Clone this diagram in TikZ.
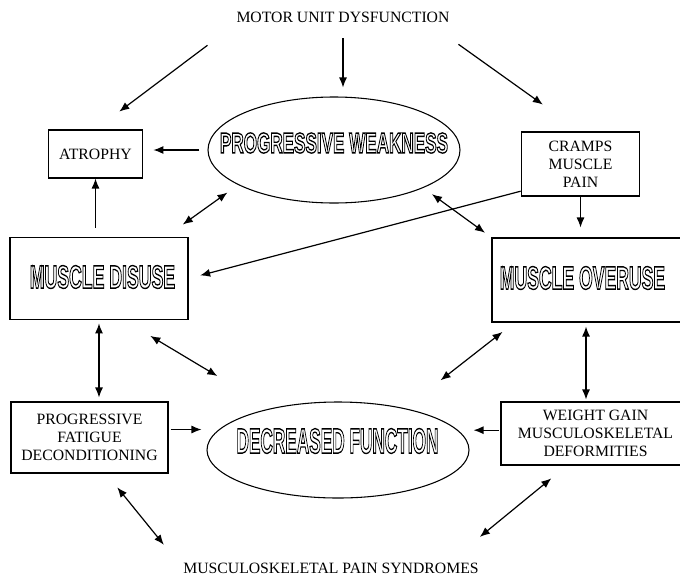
\documentclass[tikz,border=0pt]{standalone}
\usepackage{fontspec}
\setmainfont{Liberation Serif}
\setsansfont{Liberation Sans}
\usetikzlibrary{arrows.meta,shapes.geometric}
\newcommand\hollow[4]{\resizebox{#1}{#2}{\fontsize{#3}{#3}\selectfont\sffamily\bfseries
  \special{pdf:literal direct 1 Tr 1 w}#4\special{pdf:literal direct 0 Tr}}}

\begin{document}
\begin{tikzpicture}[x=0.75pt,y=-0.75pt,
  plain/.style={font=\fontsize{11.8}{13.5}\selectfont,align=center},
  box/.style={draw,line width=0.8pt,plain},
  oval/.style={draw,ellipse,line width=0.8pt},
  arr/.style={line width=0.9pt,-{Latex[length=7.5pt,width=6pt]}},
  dbl/.style={line width=0.9pt,{Latex[length=7.5pt,width=6pt]}-{Latex[length=7.5pt,width=6pt]}}]
\clip (0,0) rectangle (680,575);
\node[plain] (motor) at (343,17) {MOTOR UNIT DYSFUNCTION};
\node[oval,minimum width=189pt,minimum height=79.5pt] (weak) at (334,150) {};
\node (weaktxt) at (334,143) {\hollow{171pt}{15pt}{21pt}{PROGRESSIVE WEAKNESS}};
\node[box,minimum width=71pt,minimum height=36pt] (atrophy) at (95.5,154) {ATROPHY};
\node[box,minimum width=89pt,minimum height=48pt] (cramps) at (580.5,164) {CRAMPS\\MUSCLE\\PAIN};
\node[box,minimum width=133.5pt,minimum height=62pt] (disuse) at (99,278.5) {};
\node (disusetxt) at (102.5,277) {\hollow{109pt}{17pt}{23.5pt}{MUSCLE DISUSE}};
\node[box,minimum width=148.5pt,minimum height=63pt] (overuse) at (591,280) {};
\node (overusetxt) at (582.5,278) {\hollow{124pt}{17pt}{23.5pt}{MUSCLE OVERUSE}};
\node[oval,minimum width=196.5pt,minimum height=72pt] (func) at (338,450) {};
\node (functxt) at (337.5,441) {\hollow{151.5pt}{18.5pt}{25.5pt}{DECREASED FUNCTION}};
\node[box,minimum width=117.75pt,minimum height=53.25pt] (fatigue) at (89.5,437.5) {PROGRESSIVE\\FATIGUE\\DECONDITIONING};
\node[box,minimum width=141.75pt,minimum height=47.25pt] (weight) at (595.5,433.5) {WEIGHT GAIN\\MUSCULOSKELETAL\\DEFORMITIES};
\node[plain] (pain) at (331,568) {MUSCULOSKELETAL PAIN SYNDROMES};

\draw[arr,shorten <=22.8pt,shorten >=22.3pt] (motor.south west) -- (atrophy.north);
\draw[arr,shorten <=8.5pt,shorten >=6.75pt] (motor.south) -- (motor.south |- weak.north);
\draw[arr,shorten <=22.3pt,shorten >=34.7pt] ([xshift=-15pt]motor.south east) -- (cramps.north);
\draw[arr,shorten <=6pt,shorten >=7.5pt] (weak.west) -- (weak.west -| atrophy.east);
\draw[arr,shorten <=6.75pt] (atrophy.south |- disuse.north) -- (atrophy.south);
\draw[dbl,shorten <=15.6pt,shorten >=9.8pt] ([xshift=-17pt]disuse.north east) -- (weak.200);
\draw[arr,shorten >=9pt] ([yshift=4pt]cramps.south west) -- (disuse.east);
\draw[arr,shorten >=7.5pt] (cramps.south) -- (cramps.south |- overuse.north);
\draw[dbl,shorten <=8pt,shorten >=6pt] (weak.-23) -- (overuse.north west);
\draw[dbl,shorten <=2.25pt,shorten >=3pt] (disuse.south) -- (disuse.south |- fatigue.north);
\draw[dbl,shorten <=22.7pt,shorten >=47pt] ([xshift=19pt]disuse.south) -- (func.148);
\draw[dbl,shorten <=34pt,shorten >=11.4pt] (func.32) -- ([xshift=17.25pt]overuse.south west);
\draw[dbl,shorten <=3pt,shorten >=1.5pt] ([xshift=-3.75pt]overuse.south) -- ([xshift=-3.75pt]overuse.south |- weight.north);
\draw[arr,shorten <=1.5pt,shorten >=3.75pt] ([yshift=6pt]fatigue.east) -- ([yshift=6pt]fatigue.east -| func.west);
\draw[arr,shorten <=1pt,shorten >=3pt] ([yshift=2.5pt]weight.west) -- ([yshift=2.5pt]weight.west -| func.east);
\draw[dbl,shorten <=13.4pt,shorten >=12.8pt] ([xshift=12.4pt]fatigue.south) -- ([xshift=-3pt]pain.north west);
\draw[dbl,shorten <=15.2pt,shorten >=25pt] ([xshift=-21.4pt]weight.south) -- ([xshift=-22pt]pain.north east);
\end{tikzpicture}
\end{document}
